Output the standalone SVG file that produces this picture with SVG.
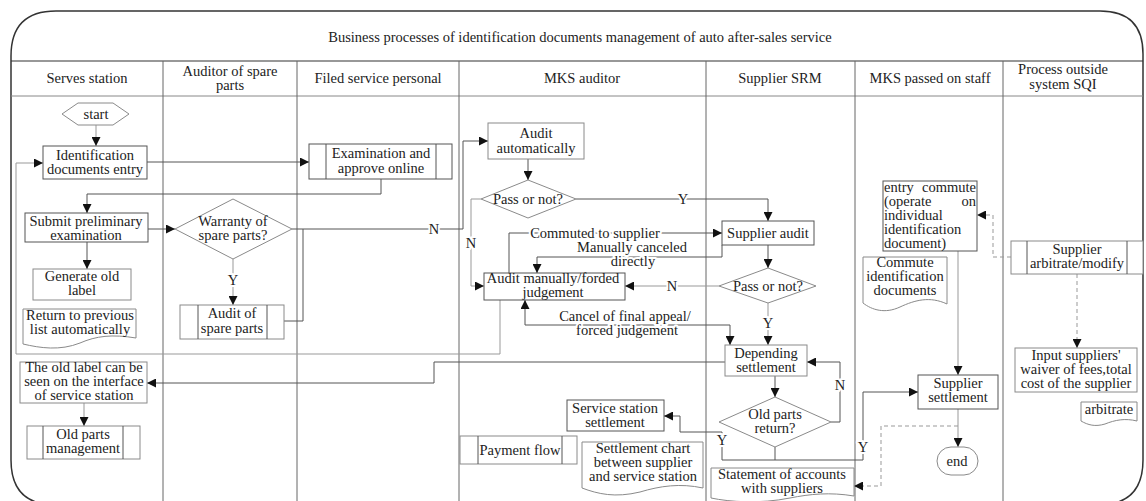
<svg xmlns="http://www.w3.org/2000/svg" width="1146" height="501" viewBox="0 0 1146 501">
<style>
.t{font-family:"Liberation Serif","Times New Roman",serif;font-size:14.5px;fill:#222;text-anchor:middle}
.s{text-anchor:start}
.e{text-anchor:end}
.box{fill:#fff;stroke:#555;stroke-width:1}
.lt{stroke:#8a8a8a}
.c{fill:none;stroke:#555;stroke-width:1}
.g{stroke:#999}
.d{stroke-dasharray:4 3}
.lbl{paint-order:stroke;stroke:#fff;stroke-width:4px;stroke-linejoin:round}
.lane{stroke:#666;stroke-width:1}
</style>
<defs>
<marker id="a" viewBox="0 0 10 10" refX="10" refY="5" markerWidth="9" markerHeight="9" markerUnits="userSpaceOnUse" orient="auto-start-reverse"><path d="M0,0 L10,5 L0,10 z" fill="#111"/></marker>
</defs>
<rect width="1146" height="501" fill="#fff"/>
<g id="frame">
<path d="M11,56 Q11,11 56,11 H1100 Q1143,11 1143,54 V460 Q1143,505 1098,505 H56 Q11,505 11,460 Z" fill="none" stroke="#333" stroke-width="1.5"/>
<line x1="11" y1="61" x2="1143" y2="61" stroke="#333" stroke-width="1.2"/>
<line x1="11" y1="96" x2="1143" y2="96" stroke="#888"/>
<line class="lane" x1="163" y1="61" x2="163" y2="501"/>
<line class="lane" x1="297" y1="61" x2="297" y2="501"/>
<line class="lane" x1="459" y1="61" x2="459" y2="501"/>
<line class="lane" x1="706" y1="61" x2="706" y2="501"/>
<line class="lane" x1="855" y1="61" x2="855" y2="501"/>
<line class="lane" x1="1003" y1="61" x2="1003" y2="501" stroke="#aaa"/>
<text class="t" x="580" y="42">Business processes of identification documents management of auto after-sales service</text>
<text class="t" x="87" y="83">Serves station</text>
<text class="t" x="230" y="76">Auditor of spare</text>
<text class="t" x="230" y="90">parts</text>
<text class="t" x="378" y="83">Filed service personal</text>
<text class="t" x="582" y="83">MKS auditor</text>
<text class="t" x="780" y="83">Supplier SRM</text>
<text class="t" x="930" y="83">MKS passed on staff</text>
<text class="t" x="1063" y="74">Process outside</text>
<text class="t" x="1063" y="89">system  SQI</text>
</g>
<g id="connectors">
<path class="c g" d="M96,125 V146" marker-end="url(#a)"/>
<path class="c g" d="M500,300 V354 H16 V163 H43" marker-end="url(#a)"/>
<path class="c" d="M147,162 H309" marker-end="url(#a)"/>
<path class="c" d="M381,179 V194 H87 V213" marker-end="url(#a)"/>
<path class="c" d="M148,229 H175" marker-end="url(#a)"/>
<path class="c" d="M87,242 V269" marker-end="url(#a)"/>
<path class="c g" d="M233,259 V305" marker-end="url(#a)"/>
<path class="c" d="M292,229 H463 V141 H488" marker-end="url(#a)"/>
<path class="c" d="M284,321 H303 V229"/>
<path class="c" d="M528,159 V180" marker-end="url(#a)"/>
<path class="c" d="M576,199 H768 V221" marker-end="url(#a)"/>
<path class="c g" d="M481,199 H471 V286 H484" marker-end="url(#a)"/>
<path class="c" d="M509,273 V233 H722" marker-end="url(#a)"/>
<path class="c" d="M722,245 V257 H537 V273" marker-end="url(#a)"/>
<path class="c g" d="M719,286 H625" marker-end="url(#a)"/>
<path class="c" d="M525,300 V325 H730 V345" marker-start="url(#a)" marker-end="url(#a)"/>
<path class="c" d="M768,245 V268" marker-end="url(#a)"/>
<path class="c g" d="M768,303 V345" marker-end="url(#a)"/>
<path class="c" d="M725,362 H434 V383 H147" marker-end="url(#a)"/>
<path class="c" d="M775,376 V397" marker-end="url(#a)"/>
<path class="c" d="M831,422 H840 V362 H807" marker-end="url(#a)"/>
<path class="c" d="M775,447 V460 H722 V432 H680 V416 H664" marker-end="url(#a)"/>
<path class="c" d="M775,460 H863 V392 H918" marker-end="url(#a)"/>
<path class="c g" d="M958,251 V375" marker-end="url(#a)"/>
<path class="c g" d="M958,409 V447" marker-end="url(#a)"/>
<path class="c g d" d="M958,426 H881 V486 H854" marker-end="url(#a)"/>
<path class="c g d" d="M1011,257 H993 V215 H977" marker-end="url(#a)"/>
<path class="c g d" d="M1077,274 V348" marker-end="url(#a)"/>
<path class="c g" d="M84,403 V426" marker-end="url(#a)"/>
<text class="t lbl" x="233" y="285">Y</text>
<text class="t lbl" x="434" y="234">N</text>
<text class="t lbl" x="683" y="204">Y</text>
<text class="t lbl" x="471" y="248">N</text>
<text class="t lbl" x="595" y="238">Commuted to supplier</text>
<text class="t lbl" x="632" y="252">Manually canceled</text>
<text class="t lbl" x="633" y="266">directly</text>
<text class="t lbl" x="672" y="291">N</text>
<text class="t lbl" x="625" y="321">Cancel of final appeal/</text>
<text class="t lbl" x="627" y="335">forced judgement</text>
<text class="t lbl" x="768" y="328">Y</text>
<text class="t lbl" x="840" y="390">N</text>
<text class="t lbl" x="722" y="445">Y</text>
<text class="t lbl" x="863" y="452">Y</text>
</g>
<g id="start"><polygon class="box lt" points="62,114 78,103 113,103 129,114 113,125 78,125"/><text class="t" x="96" y="119">start</text></g>
<g id="identification"><rect class="box" x="43" y="146" width="104" height="33"/><text class="t" x="95" y="160">Identification</text><text class="t" x="95" y="174">documents entry</text></g>
<g id="submit"><rect class="box" x="25" y="213" width="123" height="29"/><text class="t" x="86" y="226">Submit preliminary</text><text class="t" x="86" y="240">examination</text></g>
<g id="generate"><rect class="box lt" x="33" y="269" width="98" height="31"/><text class="t" x="82" y="281">Generate old</text><text class="t" x="82" y="295">label</text></g>
<g id="return"><path class="box lt" d="M23,309 H136 V338 C112,334 96,336 80,343 C60,351 40,348 23,344 Z"/><text class="t" x="80" y="320">Return to previous</text><text class="t" x="80" y="334">list automatically</text></g>
<g id="oldlabel"><rect class="box lt" x="20" y="362" width="127" height="41"/><text class="t" x="84" y="372">The old label can be</text><text class="t" x="84" y="386">seen on the interface</text><text class="t" x="84" y="400">of service station</text></g>
<g id="oldparts"><rect class="box lt" x="27" y="426" width="113" height="33"/><line class="c lt" x1="43" y1="426" x2="43" y2="459"/><line class="c lt" x1="123" y1="426" x2="123" y2="459"/><text class="t" x="83" y="439">Old parts</text><text class="t" x="83" y="453">management</text></g>
<g id="warranty"><polygon class="box lt" points="175,229 233,199 292,229 233,259"/><text class="t" x="233" y="226">Warranty of</text><text class="t" x="233" y="240">spare parts?</text></g>
<g id="auditspare"><rect class="box lt" x="180" y="305" width="104" height="34"/><line class="c lt" x1="198" y1="305" x2="198" y2="339"/><line class="c lt" x1="267" y1="305" x2="267" y2="339"/><text class="t" x="232" y="318">Audit of</text><text class="t" x="232" y="333">spare parts</text></g>
<g id="examination"><rect class="box" x="309" y="144" width="143" height="35"/><line class="c" x1="326" y1="144" x2="326" y2="179"/><line class="c" x1="436" y1="144" x2="436" y2="179"/><text class="t" x="381" y="158">Examination and</text><text class="t" x="381" y="173">approve online</text></g>
<g id="auditauto"><rect class="box lt" x="488" y="123" width="96" height="36"/><text class="t" x="536" y="138">Audit</text><text class="t" x="536" y="153">automatically</text></g>
<g id="pass1"><polygon class="box lt" points="481,199 528,180 576,199 528,218"/><text class="t" x="528" y="204">Pass or not?</text></g>
<g id="auditmanual"><rect class="box" x="484" y="273" width="141" height="27"/><text class="t" x="553" y="283">Audit manually/forded</text><text class="t" x="553" y="297">judgement</text></g>
<g id="stationsettle"><rect class="box" x="567" y="400" width="97" height="31"/><text class="t" x="615" y="413">Service station</text><text class="t" x="615" y="427">settlement</text></g>
<g id="payment"><rect class="box lt" x="460" y="436" width="117" height="28"/><line class="c lt" x1="478" y1="436" x2="478" y2="464"/><line class="c lt" x1="562" y1="436" x2="562" y2="464"/><text class="t" x="520" y="455">Payment flow</text></g>
<g id="settlechart"><path class="box lt" d="M582,442 H703 V488 C680,483 660,486 640,492 C615,498 598,494 582,488 Z"/><text class="t" x="643" y="453">Settlement chart</text><text class="t" x="643" y="467">between supplier</text><text class="t" x="643" y="481">and service station</text></g>
<g id="supplieraudit"><rect class="box" x="722" y="221" width="92" height="24"/><text class="t" x="768" y="238">Supplier audit</text></g>
<g id="pass2"><polygon class="box lt" points="719,286 768,268 816,286 768,303"/><text class="t" x="768" y="291">Pass or not?</text></g>
<g id="depending"><rect class="box lt" x="725" y="345" width="82" height="31"/><text class="t" x="766" y="358">Depending</text><text class="t" x="766" y="372">settlement</text></g>
<g id="oldreturn"><polygon class="box lt" points="719,422 775,397 831,422 775,447"/><text class="t" x="775" y="419">Old parts</text><text class="t" x="775" y="433">return?</text></g>
<g id="statement"><path class="box lt" d="M711,468 H854 V496 C830,492 810,494 790,498 C760,504 730,502 711,498 Z"/><text class="t" x="782" y="479">Statement of accounts</text><text class="t" x="782" y="493">with suppliers</text></g>
<g id="entrycommute"><rect class="box" x="883" y="181" width="94" height="70"/><text class="t s" x="884" y="192">entry</text><text class="t e" x="976" y="192">commute</text><text class="t s" x="884" y="206">(operate</text><text class="t e" x="976" y="206">on</text><text class="t s" x="884" y="220">individual</text><text class="t s" x="884" y="234">identification</text><text class="t s" x="884" y="248">document)</text></g>
<g id="commutedocs"><path class="box lt" d="M863,257 H947 V304 C930,296 915,300 900,307 C885,314 872,310 863,303 Z"/><text class="t" x="905" y="267">Commute</text><text class="t" x="905" y="281">identification</text><text class="t" x="905" y="295">documents</text></g>
<g id="suppliersettle"><rect class="box" x="918" y="375" width="80" height="34"/><text class="t" x="958" y="388">Supplier</text><text class="t" x="958" y="402">settlement</text></g>
<g id="end"><rect class="box lt" x="937" y="447" width="41" height="28" rx="14"/><text class="t" x="957" y="466">end</text></g>
<g id="arbitrate-modify"><rect class="box lt" x="1011" y="241" width="132" height="33"/><line class="c lt" x1="1027" y1="241" x2="1027" y2="274"/><line class="c lt" x1="1127" y1="241" x2="1127" y2="274"/><text class="t" x="1077" y="254">Supplier</text><text class="t" x="1077" y="268">arbitrate/modify</text></g>
<g id="input"><rect class="box lt" x="1015" y="348" width="122" height="44"/><text class="t" x="1076" y="360">Input suppliers'</text><text class="t" x="1076" y="374">waiver of fees,total</text><text class="t" x="1076" y="388">cost of the supplier</text></g>
<g id="arbitrate"><path class="box lt" d="M1081,402 H1137 V421 C1125,418 1115,420 1105,424 C1095,427 1088,425 1081,421 Z"/><text class="t" x="1109" y="414">arbitrate</text></g>
</svg>
